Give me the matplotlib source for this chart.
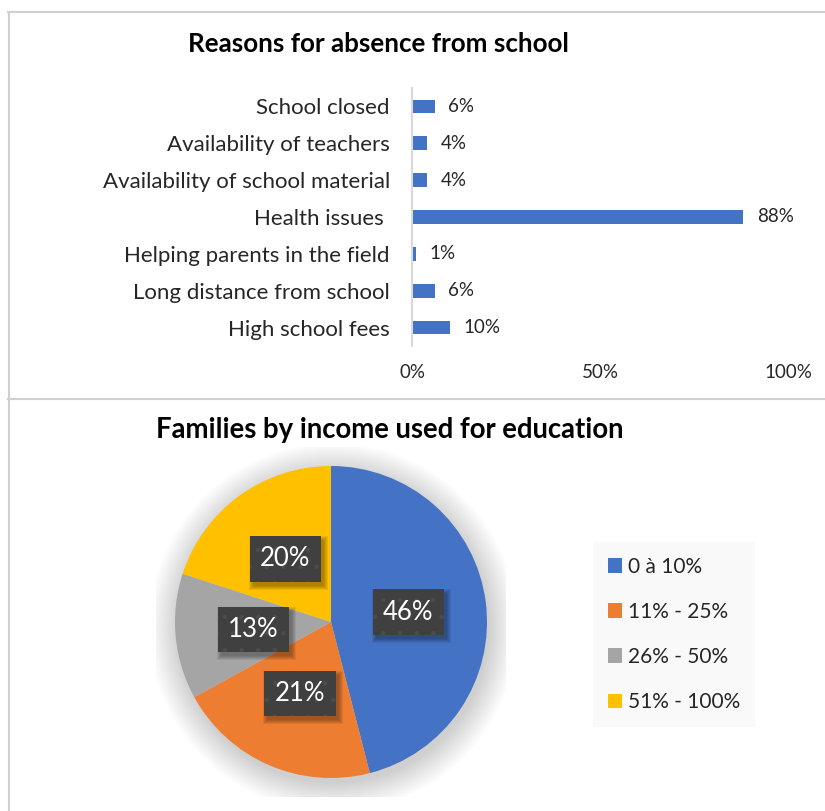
import matplotlib
matplotlib.use("Agg")
import matplotlib.pyplot as plt
from matplotlib.patches import Patch, Circle, Rectangle
from matplotlib.lines import Line2D
from matplotlib.transforms import IdentityTransform

plt.rcParams["font.family"] = ["Lato", "DejaVu Sans"]
plt.rcParams["hatch.linewidth"] = 0.8

# absence reasons (share of respondents, %)
reasons = ["High school fees", "Long distance from school", "Helping parents in the field",
           "Health issues ", "Availability of school material", "Availability of teachers",
           "School closed"]
reason_pct = [10, 6, 1, 88, 4, 4, 6]
x_ticks = [0, 50, 100]
x_tick_labels = ["0%", "50%", "100%"]

# income share spent on education
income_groups = ["0 à 10%", "11% - 25%", "26% - 50%", "51% - 100%"]
family_pct = [46, 21, 13, 20]
pie_colors = ["#4472C4", "#ED7D31", "#A5A5A5", "#FFC000"]

W, H = 825, 811
fig = plt.figure(figsize=(W / 100, H / 100), dpi=100)

def fx(px):
    return px / W

def fy(py):
    return 1 - py / H

# panel frames
frame = dict(color="#D0D0D0", linewidth=1.5, transform=fig.transFigure)
fig.add_artist(Line2D([fx(8.5), fx(8.5)], [fy(12), 0], **frame))
fig.add_artist(Line2D([fx(8), 1], [fy(12), fy(12)], **frame))
fig.add_artist(Line2D([fx(8), 1], [fy(399), fy(399)], **frame))

# --- bar chart ---
ax = fig.add_axes([fx(412), fy(346), fx(788) - fx(412), fy(88) - fy(346)])
bars = ax.barh(range(len(reasons)), reason_pct, height=0.37, color="#4472C4")
ax.set_xlim(0, 100)
ax.set_ylim(-0.5, len(reasons) - 0.5)
ax.set_yticks(range(len(reasons)))
ax.set_yticklabels(reasons, fontsize=16, color="#262626")
ax.set_xticks(x_ticks)
ax.set_xticklabels(x_tick_labels, fontsize=13.5, color="#262626")
ax.tick_params(axis="y", length=0, pad=16)
ax.tick_params(axis="x", length=0, pad=13)
for s in ["top", "right", "bottom"]:
    ax.spines[s].set_visible(False)
ax.spines["left"].set_color("#D9D9D9")
ax.spines["left"].set_linewidth(1.5)
ax.bar_label(bars, labels=[f"{v}%" for v in reason_pct], padding=10,
             fontsize=13.5, color="#262626")

fig.text(fx(378), fy(44), "Reasons for absence from school", ha="center", va="center",
         fontsize=18.7, fontweight="bold", color="black")

# --- pie chart ---
cx, cy, r = 331, 622, 156
half = 175
pax = fig.add_axes([fx(cx - half), fy(cy + half), 2 * half / W, 2 * half / H])
# soft drop shadow behind the pie
for i in range(16):
    pax.add_patch(Circle((0.015, -0.035), 1.0 + 0.012 * i, color="black",
                         alpha=0.011, linewidth=0, zorder=0))
wedges, texts, autotexts = pax.pie(
    family_pct, colors=pie_colors, startangle=90, counterclock=False,
    autopct=lambda p: f"{p:.0f}%", pctdistance=0.5,
    textprops=dict(color="white", fontsize=18.5))
for w in wedges:
    w.set_zorder(2)
for t in autotexts:
    t.set_zorder(5)
    t.set_bbox(dict(boxstyle="square,pad=0.4", facecolor="#404040",
                    edgecolor="#4C4C4C", linewidth=0, hatch="."))
lim = half / r
pax.set_xlim(-lim, lim)
pax.set_ylim(-lim, lim)
pax.axis("off")

# blurred shadow under each label box, placed from the rendered box extent
fig.canvas.draw()
for t in autotexts:
    bb = t.get_bbox_patch().get_window_extent()
    for k in range(5):
        g = 4 - k
        pax.add_patch(Rectangle((bb.x0 + 3 - g, bb.y0 - 4 - g), bb.width + 2 * g,
                                bb.height + 2 * g, transform=IdentityTransform(),
                                facecolor="black", alpha=0.07, linewidth=0, zorder=4))

fig.text(fx(390), fy(430), "Families by income used for education", ha="center",
         va="center", fontsize=19.8, fontweight="bold", color="black")

handles = [Patch(facecolor=c, edgecolor="none") for c in pie_colors]
leg = fig.legend(handles, income_groups, loc="upper left",
                 bbox_to_anchor=(fx(593), fy(542)), borderaxespad=0,
                 fontsize=15, frameon=True, fancybox=False,
                 handlelength=0.7, handleheight=0.7, handletextpad=0.3,
                 labelspacing=1.21, borderpad=0.7)
leg.get_frame().set_facecolor("#F8F8F8")
leg.get_frame().set_edgecolor("none")
for t in leg.get_texts():
    t.set_color("#262626")

fig.savefig("out.png", dpi=100)
